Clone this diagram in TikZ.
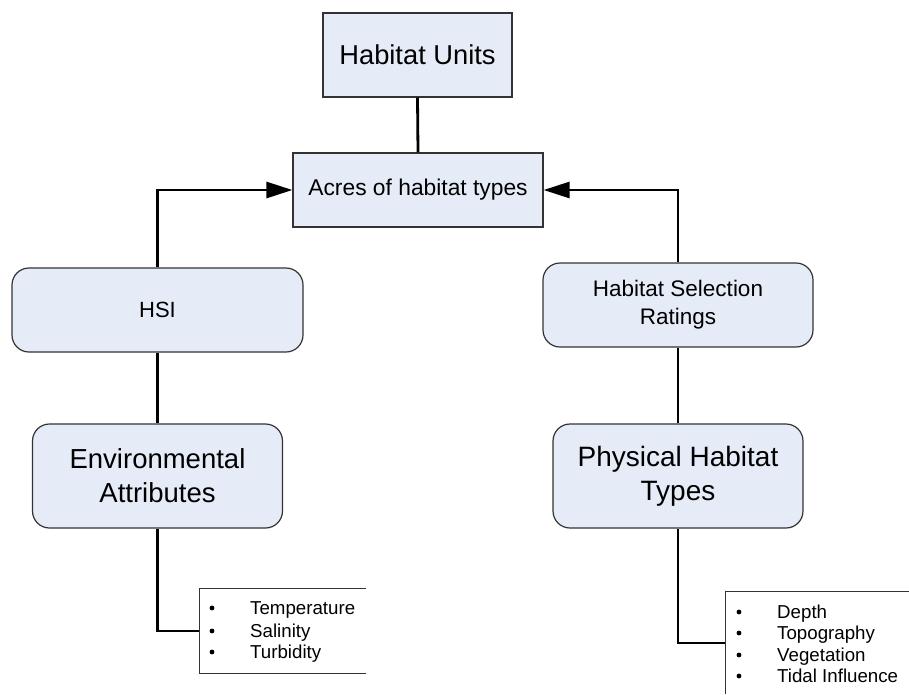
\documentclass[tikz,border=0pt]{standalone}
\usepackage{fontspec}
\setmainfont{Liberation Sans}
\usetikzlibrary{arrows.meta}
\definecolor{boxfill}{HTML}{E6ECF7}
\definecolor{boxline}{HTML}{333333}
\begin{document}
\begin{tikzpicture}[x=1pt,y=-1pt,
  sqbox/.style={draw=boxline,line width=1.2pt,fill=boxfill,rectangle,inner sep=0pt,align=center},
  rbox/.style={sqbox,rounded corners=17pt},
  link/.style={line width=2.8pt,black},
  arrowlink/.style={link,-{Triangle[length=26pt,width=16pt]}},
  listframe/.style={draw=boxline,line width=1pt},
  item/.style={anchor=base west,inner sep=0pt,font=\fontsize{18.7}{22}\selectfont}]
\useasboundingbox (0,0) rectangle (909,694);

% main boxes
\node[sqbox,minimum width=189pt,minimum height=84pt,font=\fontsize{27.3}{34}\selectfont] (units) at (417.5,55) {Habitat Units};
\node[sqbox,minimum width=250pt,minimum height=74pt,font=\fontsize{22.8}{28}\selectfont] (acres) at (418,190) {Acres of habitat types};
\node[rbox,minimum width=291pt,minimum height=84pt,font=\fontsize{22}{28}\selectfont] (hsi) at (157.5,310) {HSI};
\node[rbox,minimum width=270pt,minimum height=84pt,font=\fontsize{22.5}{28}\selectfont] (hsr) at (678,305) {Habitat Selection\\Ratings};
\node[rbox,minimum width=250pt,minimum height=104pt,font=\fontsize{27.5}{34}\selectfont] (env) at (157.5,476) {Environmental\\Attributes};
\node[rbox,minimum width=250pt,minimum height=104pt,font=\fontsize{28}{34}\selectfont] (phys) at (678,476) {Physical Habitat\\Types};

% bullet list frames
\draw[listframe] (366,588) -- (199,588) -- (199,673) -- (366,673);
\draw[listframe] (909,591) -- (725,591) -- (725,694);
\coordinate (envlist) at (199,631);
\coordinate (physlist) at (725,643);

% left list
\foreach \y/\t in {614/Temperature,637/Salinity,658/Turbidity}{
  \fill (212,\y-6) circle (2.4pt);
  \node[item] at (250,\y) {\t};
}
% right list
\foreach \y/\t in {618/Depth,639/Topography,661/Vegetation,682/Tidal Influence}{
  \fill (739,\y-6) circle (2.4pt);
  \node[item] at (777,\y) {\t};
}

% connectors
\draw[link] (units.south) -- (acres.north);
\draw[arrowlink] (hsi.north) |- (acres.west);
\draw[arrowlink] (hsr.north) |- (acres.east);
\draw[link] (hsi.south) -- (env.north);
\draw[link] (hsr.south) -- (phys.north);
\draw[link] (env.south) |- (envlist);
\draw[link] (phys.south) |- (physlist);
\end{tikzpicture}
\end{document}
